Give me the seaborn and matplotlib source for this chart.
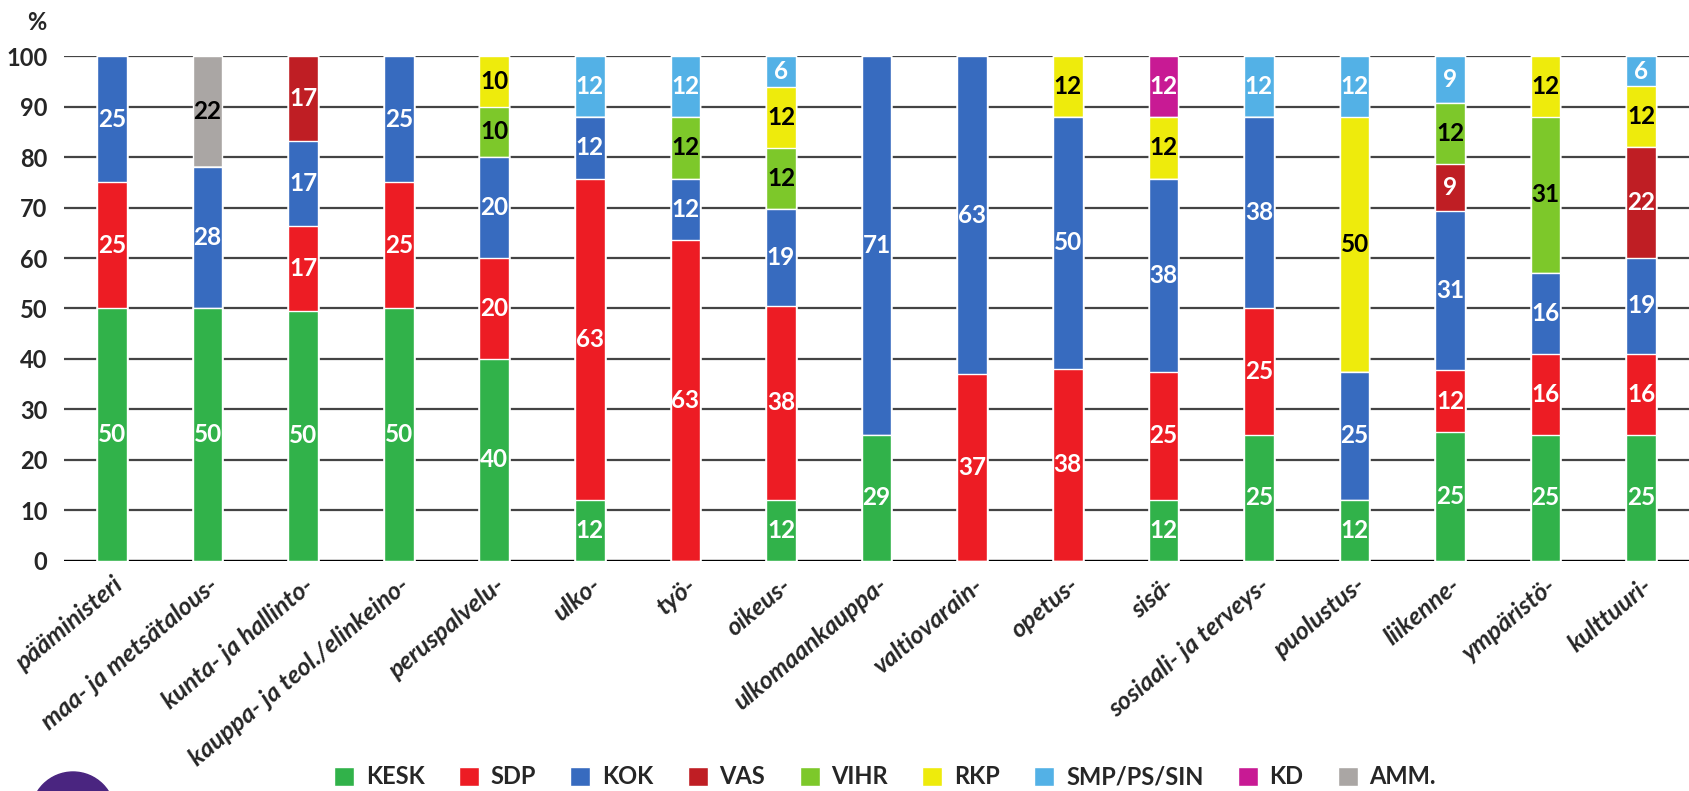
import pandas as pd
import matplotlib.pyplot as plt
from matplotlib.patches import Ellipse, Patch
import seaborn as sns

# ministry posts (x axis) and the printed share of each party, %
categories = [
    "pääministeri", "maa- ja metsätalous-", "kunta- ja hallinto-",
    "kauppa- ja teol./elinkeino-", "peruspalvelu-", "ulko-", "työ-", "oikeus-",
    "ulkomaankauppa-", "valtiovarain-", "opetus-", "sisä-",
    "sosiaali- ja terveys-", "puolustus-", "liikenne-", "ympäristö-", "kulttuuri-",
]
KESK = [50, 50, 50, 50, 40, 12, 0, 12, 29, 0, 0, 12, 25, 12, 25, 25, 25]
SDP = [25, 0, 17, 25, 20, 63, 63, 38, 0, 37, 38, 25, 25, 0, 12, 16, 16]
KOK = [25, 28, 17, 25, 20, 12, 12, 19, 71, 63, 50, 38, 38, 25, 31, 16, 19]
VAS = [0, 0, 17, 0, 0, 0, 0, 0, 0, 0, 0, 0, 0, 0, 9, 0, 22]
VIHR = [0, 0, 0, 0, 10, 0, 12, 12, 0, 0, 0, 0, 0, 0, 12, 31, 0]
RKP = [0, 0, 0, 0, 10, 0, 0, 12, 0, 0, 12, 12, 0, 50, 0, 12, 12]
SMP = [0, 0, 0, 0, 0, 12, 12, 6, 0, 0, 0, 0, 12, 12, 9, 0, 6]
KD = [0, 0, 0, 0, 0, 0, 0, 0, 0, 0, 0, 12, 0, 0, 0, 0, 0]
AMM = [0, 22, 0, 0, 0, 0, 0, 0, 0, 0, 0, 0, 0, 0, 0, 0, 0]

# in the original the ulkomaankauppa bar is drawn 25/75 although labelled 29/71
bar_override = {"ulkomaankauppa-": {"KESK": 25, "KOK": 75}}

parties = ["KESK", "SDP", "KOK", "VAS", "VIHR", "RKP", "SMP", "KD", "AMM"]
legend_names = {"SMP": "SMP/PS/SIN", "AMM": "AMM."}
colors = {
    "KESK": "#31b24a", "SDP": "#ed1c24", "KOK": "#376bbf", "VAS": "#bf1e24",
    "VIHR": "#7dc82a", "RKP": "#eeeb0c", "SMP": "#53b1e6", "KD": "#c81a94",
    "AMM": "#aaa6a4",
}
dark_text = {"VIHR", "RKP", "AMM"}

printed = pd.DataFrame(
    {"KESK": KESK, "SDP": SDP, "KOK": KOK, "VAS": VAS, "VIHR": VIHR,
     "RKP": RKP, "SMP": SMP, "KD": KD, "AMM": AMM},
    index=categories,
)
drawn = printed.copy()
for cat, vals in bar_override.items():
    for p, v in vals.items():
        drawn.loc[cat, p] = v
shares = drawn.div(drawn.sum(axis=1), axis=0) * 100
tops = shares.cumsum(axis=1)

sns.set_theme(style="white")
plt.rcParams["font.family"] = ["Lato", "DejaVu Sans"]

fig, ax = plt.subplots(figsize=(16.89, 7.91), dpi=100)
fig.subplots_adjust(left=0.038, right=1.0, top=0.929, bottom=0.291)

# stack by overlaying cumulative bars, topmost party first
for party in reversed(parties):
    sns.barplot(x=categories, y=tops[party].values, color=colors[party],
                width=0.31, saturation=1, errorbar=None, ax=ax, zorder=3)

for i, cat in enumerate(categories):
    bottom = 0
    for p in parties:
        h = shares.loc[cat, p]
        if printed.loc[cat, p] > 0:
            ax.text(i, bottom + h / 2, str(printed.loc[cat, p]), ha="center",
                    va="center", fontsize=17.5, fontweight="bold", zorder=4,
                    color="black" if p in dark_text else "white")
        bottom += h

ax.set_xlim(-0.5, len(categories) - 0.5)
ax.set_ylim(0, 100)
ax.set_yticks(range(0, 101, 10))
ax.yaxis.grid(True, color="#444444", linewidth=1.6)
ax.set_axisbelow(True)
for s in ax.spines.values():
    s.set_visible(False)
ax.axhline(0, color="black", linewidth=1.6, zorder=2)

ax.tick_params(axis="y", length=0, pad=12, labelsize=17)
for lbl in ax.get_yticklabels():
    lbl.set_fontweight("bold")
ax.set_xticks(range(len(categories)))
ax.set_xticklabels(categories, rotation=40, ha="right", rotation_mode="anchor",
                   fontsize=18, fontweight="bold", fontstyle="italic")
ax.tick_params(axis="x", length=0, pad=9)
ax.set_xlabel("")
ax.set_ylabel("")

fig.text(37 / 1689, 1 - 23 / 791, "%", ha="center", va="center",
         fontsize=17, fontweight="bold")

handles = [Patch(facecolor=colors[p], label=legend_names.get(p, p)) for p in parties]
fig.legend(handles=handles, ncol=9, loc="center",
           bbox_to_anchor=(885 / 1689, 1 - 777 / 791), frameon=False,
           prop={"size": 17, "weight": "bold"}, handlelength=0.85,
           handleheight=0.85, handletextpad=0.5, columnspacing=1.45)

# purple logo circle cut off at the lower left corner
fig.patches.append(Ellipse((73 / 1689, 1 - 814 / 791), 84 / 1689, 84 / 791,
                           color="#4a2580", transform=fig.transFigure,
                           figure=fig))

fig.savefig("out.png", dpi=100)
